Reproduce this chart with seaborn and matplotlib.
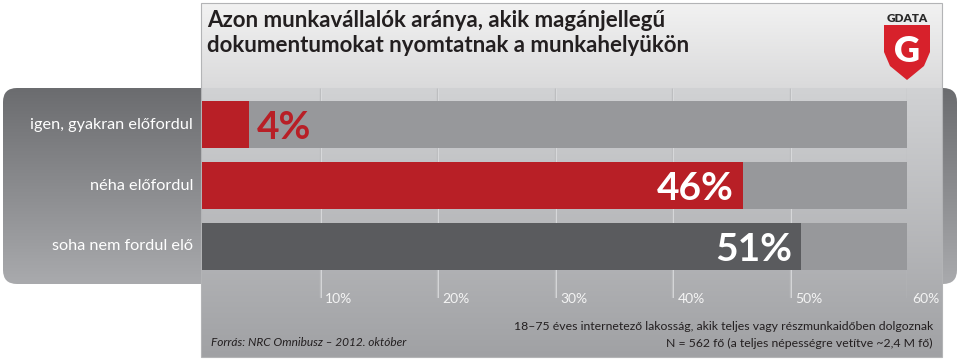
import numpy as np
import pandas as pd
import matplotlib
matplotlib.use("Agg")
import matplotlib.pyplot as plt
import matplotlib.transforms as mtransforms
from matplotlib.patches import FancyBboxPatch, Polygon, Rectangle
from matplotlib.colors import to_rgb
import seaborn as sns

# Adatok
categories = ["igen, gyakran előfordul", "néha előfordul", "soha nem fordul elő"]
values = [4, 46, 51]
bar_colors = ["#b81f26", "#b81f26", "#5a5b5e"]
value_labels = ["4%", "46%", "51%"]
ticks = [10, 20, 30, 40, 50, 60]
tick_labels = ["10%", "20%", "30%", "40%", "50%", "60%"]
full_scale = [60, 60, 60]

title = "Azon munkavállalók aránya, akik magánjellegű\ndokumentumokat nyomtatnak a munkahelyükön"
source = "Forrás: NRC Omnibusz – 2012. október"
note1 = "18–75 éves internetező lakosság, akik teljes vagy részmunkaidőben dolgoznak"
note2 = "N = 562 fő (a teljes népességre vetítve ~2,4 M fő)"

sns.set_style("white")
plt.rcParams["font.family"] = ["Lato", "DejaVu Sans"]

W, H = 960, 360
fig = plt.figure(figsize=(W / 100, H / 100), dpi=100)
fig.patch.set_facecolor("white")


def vgrad(colors, n=200):
    """függőleges színátmenet (lista: (pozíció, szín))"""
    pos = np.array([p for p, _ in colors])
    rgb = np.array([to_rgb(c) for _, c in colors])
    t = np.linspace(0, 1, n)
    arr = np.stack([np.interp(t, pos, rgb[:, k]) for k in range(3)], axis=1)
    return arr[:, None, :]


# háttér réteg pixel koordinátákban
bg = fig.add_axes([0, 0, 1, 1], zorder=0)
bg.set_xlim(0, W)
bg.set_ylim(H, 0)
bg.axis("off")

# sötét lekerekített sáv
dark = FancyBboxPatch((3, 88), 954, 196, boxstyle="round,pad=0,rounding_size=14",
                      facecolor="none", edgecolor="none")
bg.add_patch(dark)
im = bg.imshow(vgrad([(0, "#6b6c6f"), (1, "#a9aaad")]), extent=(3, 957, 284, 88),
               origin="upper", aspect="auto", zorder=1)
im.set_clip_path(dark)

# világos panel
p0, p1 = 3, 357
split = (88 - p0) / (p1 - p0)
bg.imshow(vgrad([(0, "#f2f2f2"), (split - 0.001, "#dadadb"), (split, "#d1d2d4"), (1, "#a0a1a4")], n=400),
          extent=(201, 942, p1, p0), origin="upper", aspect="auto", zorder=2)
bg.add_patch(Rectangle((201, p0), 741, p1 - p0, facecolor="none", edgecolor="#b3b4b6", lw=0.8, zorder=3))

# cím
bg.text(207, 10, title, ha="left", va="top", fontsize=16, fontweight="bold",
        color="#231f20", linespacing=1.22, zorder=4)

# logó
bg.text(907, 18, "GDATA", ha="center", va="center", fontsize=8.5, fontweight="heavy",
        color="#2a2a2a", zorder=4)
shield = Polygon([(884, 25), (930, 25), (930, 52), (924, 66), (907, 80), (890, 66), (884, 52)],
                 closed=True, facecolor="#d7212b", edgecolor="none", zorder=4)
bg.add_patch(shield)
bg.text(907, 51, "G", ha="center", va="center", fontsize=26, fontweight="heavy",
        color="white", zorder=5)

# kategória feliratok
for i, cat in enumerate(categories):
    bg.text(193, 124.5 + 61 * i, cat, ha="right", va="center", fontsize=11.7,
            color="white", zorder=4)

# forrás és megjegyzések
bg.text(211, 343, source, ha="left", va="center", fontsize=8.6, style="italic",
        color="#231f20", zorder=4)
bg.text(933, 326, note1, ha="right", va="center", fontsize=8.8, color="#231f20", zorder=4)
bg.text(933, 343, note2, ha="right", va="center", fontsize=8.8, color="#231f20", zorder=4)

# fő diagram
ax_l, ax_r, ax_t, ax_b = 202, 907, 88, 298
ax = fig.add_axes([ax_l / W, (H - ax_b) / H, (ax_r - ax_l) / W, (ax_b - ax_t) / H], zorder=2)
ax.patch.set_alpha(0)

df = pd.DataFrame({"kategoria": categories, "ertek": values, "teljes": full_scale})

trans = mtransforms.blended_transform_factory(ax.transData, ax.transAxes)
ax.vlines(ticks, 0, 1, transform=trans, colors="#bdbec0", lw=1.0, zorder=0)
ax.vlines([t + 0.09 for t in ticks], 0, 1, transform=trans, colors="#dcdddf", lw=0.6, zorder=0)

sns.barplot(data=df, x="teljes", y="kategoria", color="#97989b", width=0.77,
            orient="h", ax=ax, zorder=1, saturation=1, linewidth=0, edgecolor="none")
sns.barplot(data=df, x="ertek", y="kategoria", hue="kategoria", palette=bar_colors,
            width=0.77, orient="h", ax=ax, legend=False, zorder=2, saturation=1,
            linewidth=0, edgecolor="none")

ax.set_xlim(0, 60)
ax.set_ylim(2 + (ax_b - 246.5) / 61, -(124.5 - ax_t) / 61)
ax.set_xlabel("")
ax.set_ylabel("")
ax.set_xticks([])
ax.set_yticks([])
for s in ax.spines.values():
    s.set_visible(False)

# értékfeliratok
for i, (v, lab) in enumerate(zip(values, value_labels)):
    if v < 10:
        ax.text(v + 0.65, i, lab, ha="left", va="center_baseline", fontsize=28,
                fontweight="bold", color="#b81f26", zorder=3)
    else:
        ax.text(v - 0.75, i, lab, ha="right", va="center_baseline", fontsize=28,
                fontweight="bold", color="white", zorder=3)

# tengely feliratok
for t, lab in zip(ticks, tick_labels):
    ax.annotate(lab, xy=(t, 0), xycoords=trans, xytext=(4, -1), textcoords="offset points",
                ha="left", va="center", fontsize=10, color="#f4f4f4")

fig.savefig("out.png", dpi=100)
